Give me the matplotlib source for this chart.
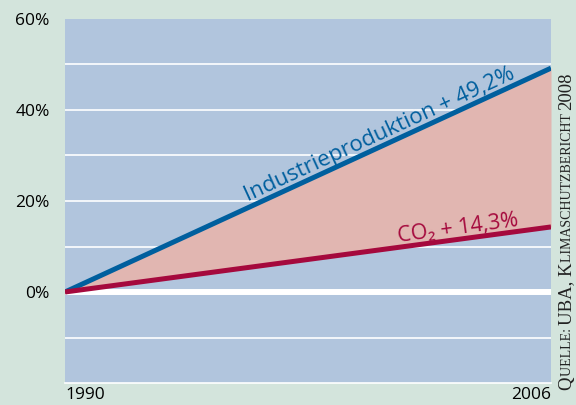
import numpy as np
import matplotlib
matplotlib.use("Agg")
from matplotlib import pyplot as plt

# Veraenderung gegenueber 1990 in Prozent
years = [1990, 2006]
industrie = [0.0, 49.2]
co2 = [0.0, 14.3]
ytick_vals = [0, 20, 40, 60]
ytick_labels = ['0%', '20%', '40%', '60%']
xtick_labels = ['1990', '2006']

FIG_BG = '#d3e4dc'
AX_BG = '#b1c5dd'
BLUE = '#005f9e'
RED = '#a5093d'
FILL = '#e1b6b1'
SANS = ['Open Sans', 'DejaVu Sans']
SERIF = ['Liberation Serif', 'DejaVu Serif']

plt.rcParams['font.family'] = SANS

fig = plt.figure(figsize=(5.76, 4.05), dpi=100, facecolor=FIG_BG)
ax = fig.add_axes([65 / 576, 1 - 383 / 405, 486 / 576, 364 / 405])
ax.set_facecolor(AX_BG)
ax.set_xlim(years[0], years[-1])
ax.set_ylim(-20, 60)

# Hilfslinien alle 10 %, Nulllinie breiter
for y in range(-20, 60, 10):
    lw = 4.3 if y == 0 else 1.2
    ax.axhline(y, color='white', linewidth=lw, zorder=1, clip_on=(y != -20))

ax.fill_between(years, co2, industrie, color=FILL, linewidth=0, zorder=2)
ax.plot(years, industrie, color=BLUE, linewidth=3.6, solid_capstyle='butt', zorder=3)
ax.plot(years, co2, color=RED, linewidth=3.6, solid_capstyle='butt', zorder=3)

for s in ax.spines.values():
    s.set_visible(False)
ax.set_yticks(ytick_vals)
ax.set_yticklabels(ytick_labels, fontsize=12.5)
ax.set_xticks(years)
ax.set_xticklabels(xtick_labels, fontsize=12.5)
ax.tick_params(length=0)
ax.tick_params(axis='y', pad=11)
ax.tick_params(axis='x', pad=3)
xl = ax.get_xticklabels()
xl[0].set_ha('left')
xl[1].set_ha('right')


def line_label(x, ys, text, color, off, size):
    p0 = ax.transData.transform((years[0], ys[0]))
    p1 = ax.transData.transform((years[-1], ys[-1]))
    ang = np.degrees(np.arctan2(p1[1] - p0[1], p1[0] - p0[0]))
    y = np.interp(x, years, ys)
    nx, ny = -np.sin(np.radians(ang)) * off, np.cos(np.radians(ang)) * off
    ax.annotate(text, (x, y), xytext=(nx, ny), textcoords='offset points',
                rotation=ang, rotation_mode='anchor', ha='center', va='baseline',
                color=color, fontsize=size, zorder=4)


line_label(2000.5, industrie, 'Industrieproduktion + 49,2%', BLUE, 4, 16)
line_label(2003.0, co2, 'CO\u2082 + 14,3%', RED, 4, 15.5)

# Quellenangabe in Kapitaelchen
parts = [('Q', 13.5), ('UELLE: ', 10), ('UBA, K', 13.5), ('LIMASCHUTZBERICHT ', 10), ('2008', 13.5)]
xsrc = 571 / 576
prev = fig.text(xsrc, 15 / 405, parts[0][0], rotation=90, rotation_mode='anchor',
                ha='left', va='baseline', fontsize=parts[0][1], family=SERIF, color='#222222')
for txt, sz in parts[1:]:
    prev = ax.annotate(
        txt, xy=(xsrc, 1), xycoords=('figure fraction', prev),
        rotation=90, rotation_mode='anchor', ha='left', va='baseline',
        fontsize=sz, family=SERIF, color='#222222', annotation_clip=False)

fig.savefig('out.png', dpi=100, facecolor=FIG_BG)
